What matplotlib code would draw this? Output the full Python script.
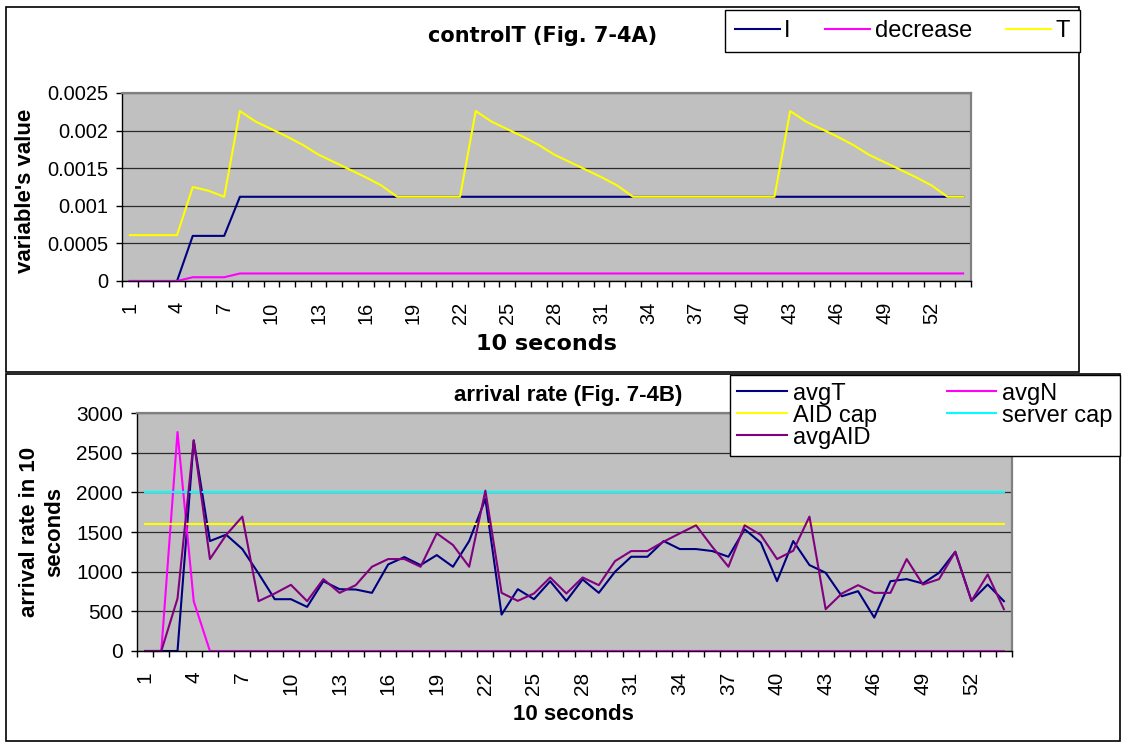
import numpy as np
import matplotlib
matplotlib.use('Agg')
import matplotlib.pyplot as plt
from matplotlib.patches import Rectangle

plt.rcParams['font.family'] = ['Liberation Sans', 'DejaVu Sans']

# ---- data ----
steps = list(range(1, 55))
tick_steps = list(range(1, 55, 3))

# top chart: controlT
ctl_I = [0, 0, 0, 0, 0.0006, 0.0006, 0.0006, 0.00112, 0.00112, 0.00112,
         0.00112, 0.00112, 0.00112, 0.00112, 0.00112, 0.00112, 0.00112, 0.00112,
         0.00112, 0.00112, 0.00112, 0.00112, 0.00112, 0.00112, 0.00112, 0.00112,
         0.00112, 0.00112, 0.00112, 0.00112, 0.00112, 0.00112, 0.00112, 0.00112,
         0.00112, 0.00112, 0.00112, 0.00112, 0.00112, 0.00112, 0.00112, 0.00112,
         0.00112, 0.00112, 0.00112, 0.00112, 0.00112, 0.00112, 0.00112, 0.00112,
         0.00112, 0.00112, 0.00112, 0.00112]
ctl_decrease = [0, 0, 0, 0, 0.00005, 0.00005, 0.00005, 0.0001, 0.0001, 0.0001,
                0.0001, 0.0001, 0.0001, 0.0001, 0.0001, 0.0001, 0.0001, 0.0001,
                0.0001, 0.0001, 0.0001, 0.0001, 0.0001, 0.0001, 0.0001, 0.0001,
                0.0001, 0.0001, 0.0001, 0.0001, 0.0001, 0.0001, 0.0001, 0.0001,
                0.0001, 0.0001, 0.0001, 0.0001, 0.0001, 0.0001, 0.0001, 0.0001,
                0.0001, 0.0001, 0.0001, 0.0001, 0.0001, 0.0001, 0.0001, 0.0001,
                0.0001, 0.0001, 0.0001, 0.0001]
ctl_T = [0.00061, 0.00061, 0.00061, 0.00061, 0.00125, 0.0012, 0.00112,
         0.00226, 0.00212, 0.00202, 0.00192, 0.00181, 0.00168, 0.00158,
         0.00148, 0.00138, 0.00127, 0.00112, 0.00112, 0.00112, 0.00112,
         0.00112, 0.00226, 0.00212, 0.00202, 0.00192, 0.00181, 0.00168,
         0.00158, 0.00148, 0.00138, 0.00127, 0.00112, 0.00112, 0.00112,
         0.00112, 0.00112, 0.00112, 0.00112, 0.00112, 0.00112, 0.00112,
         0.00226, 0.00212, 0.00202, 0.00192, 0.00181, 0.00168, 0.00158,
         0.00148, 0.00138, 0.00127, 0.00112, 0.00112]

# bottom chart: arrival rate
avgT = [0, 0, 0, 2654, 1386, 1466, 1285, 977, 653, 653, 556, 880, 779, 775,
        733, 1091, 1184, 1083, 1209, 1062, 1386, 1917, 459, 779, 653, 880, 632,
        902, 733, 999, 1188, 1188, 1386, 1285, 1285, 1260, 1188, 1534, 1365,
        880, 1386, 1083, 986, 690, 754, 421, 880, 906, 851, 986, 1251, 632, 838,
        628]
avgN = [0, 0, 2760, 628, 0, 0, 0, 0, 0, 0, 0, 0, 0, 0, 0, 0, 0, 0, 0, 0, 0,
        0, 0, 0, 0, 0, 0, 0, 0, 0, 0, 0, 0, 0, 0, 0, 0, 0, 0, 0, 0, 0, 0, 0, 0,
        0, 0, 0, 0, 0, 0, 0, 0, 0]
aid_cap = [1600, 1600, 1600, 1600, 1600, 1600, 1600, 1600, 1600, 1600, 1600,
           1600, 1600, 1600, 1600, 1600, 1600, 1600, 1600, 1600, 1600, 1600,
           1600, 1600, 1600, 1600, 1600, 1600, 1600, 1600, 1600, 1600, 1600,
           1600, 1600, 1600, 1600, 1600, 1600, 1600, 1600, 1600, 1600, 1600,
           1600, 1600, 1600, 1600, 1600, 1600, 1600, 1600, 1600, 1600]
server_cap = [2000, 2000, 2000, 2000, 2000, 2000, 2000, 2000, 2000, 2000, 2000,
              2000, 2000, 2000, 2000, 2000, 2000, 2000, 2000, 2000, 2000, 2000,
              2000, 2000, 2000, 2000, 2000, 2000, 2000, 2000, 2000, 2000, 2000,
              2000, 2000, 2000, 2000, 2000, 2000, 2000, 2000, 2000, 2000, 2000,
              2000, 2000, 2000, 2000, 2000, 2000, 2000, 2000, 2000, 2000]
avgAID = [0, 0, 661, 2654, 1159, 1462, 1694, 628, 725, 834, 628, 906, 733, 830,
          1062, 1159, 1159, 1062, 1483, 1336, 1062, 2022, 733, 632, 725, 927,
          725, 927, 830, 1133, 1260, 1260, 1378, 1483, 1584, 1314, 1062, 1584,
          1462, 1159, 1264, 1694, 527, 725, 830, 733, 733, 1159, 838, 906, 1251,
          632, 965, 527]

top_yticks = [0, 0.0005, 0.001, 0.0015, 0.002, 0.0025]
top_ylabels = ['0', '0.0005', '0.001', '0.0015', '0.002', '0.0025']
bot_yticks = [0, 500, 1000, 1500, 2000, 2500, 3000]

W, H = 1128, 742


def fx(x):
    return x / W


def fy(y):
    return 1 - y / H


def style_axes(ax, ymax, yticks, ylabels, tsize):
    ax.set_facecolor('#C0C0C0')
    ax.set_xlim(0.5, 54.5)
    ax.set_ylim(0, ymax)
    # tick marks between categories, labels on every third category
    ax.set_xticks(np.arange(0.5, 55, 1))
    ax.set_xticklabels([])
    ax.set_xticks(tick_steps, minor=True)
    ax.set_xticklabels([str(s) for s in tick_steps], minor=True, rotation=90)
    ax.set_yticks(yticks)
    ax.set_yticklabels(ylabels)
    ax.tick_params(axis='x', which='major', length=4, width=1, direction='out')
    ax.tick_params(axis='x', which='minor', length=0, pad=15, labelsize=tsize)
    ax.tick_params(axis='y', length=4, width=1, pad=6, labelsize=tsize)
    ax.yaxis.grid(True, color='#2a2a2a', lw=0.9)
    ax.set_axisbelow(True)
    for s in ['left', 'bottom']:
        ax.spines[s].set_color('black')
        ax.spines[s].set_linewidth(1)
    for s in ['top', 'right']:
        ax.spines[s].set_color('#808080')
        ax.spines[s].set_linewidth(1.6)


fig = plt.figure(figsize=(W / 100, H / 100), dpi=100)

# chart frames
fig.add_artist(Rectangle((fx(6), fy(372)), fx(1079) - fx(6), fy(7) - fy(372),
                         transform=fig.transFigure, fill=False, ec='black', lw=1.2))
fig.add_artist(Rectangle((fx(6), fy(741)), fx(1120) - fx(6), fy(374) - fy(741),
                         transform=fig.transFigure, fill=False, ec='black', lw=1.2))

# ---- top chart ----
ax1 = fig.add_axes([fx(122), fy(281), fx(971) - fx(122), fy(93) - fy(281)])
style_axes(ax1, 0.0025, top_yticks, top_ylabels, 14.4)
l1, = ax1.plot(steps, ctl_I, color='#000080', lw=1.5, clip_on=False)
l2, = ax1.plot(steps, ctl_decrease, color='#FF00FF', lw=1.5, clip_on=False)
l3, = ax1.plot(steps, ctl_T, color='#FFFF00', lw=1.5, clip_on=False)

fig.text(fx(543), fy(36), 'controlT (Fig. 7-4A)', ha='center', va='center',
         family='DejaVu Sans', weight='bold', size=15)
fig.text(fx(546), fy(344), '10 seconds', ha='center', va='center',
         family='DejaVu Sans', weight='bold', size=16)
fig.text(fx(26), fy(191), "variable's value", ha='center', va='center',
         rotation=90, weight='bold', size=16)

leg1 = fig.legend([l1, l2, l3], ['I', 'decrease', 'T'], loc='upper right',
                  bbox_to_anchor=(fx(1080), fy(10)), ncol=3, fontsize=17,
                  fancybox=False, edgecolor='black', framealpha=1,
                  borderpad=0.42, borderaxespad=0, handlelength=1.9,
                  handletextpad=0.2, columnspacing=1.45)
leg1.get_frame().set_linewidth(1)

# ---- bottom chart ----
ax2 = fig.add_axes([fx(137), fy(651), fx(1012) - fx(137), fy(413) - fy(651)])
style_axes(ax2, 3000, bot_yticks, [str(v) for v in bot_yticks], 15)
m1, = ax2.plot(steps, avgT, color='#000080', lw=1.5, clip_on=False)
m2, = ax2.plot(steps, avgN, color='#FF00FF', lw=1.5, clip_on=False)
m3, = ax2.plot(steps, aid_cap, color='#FFFF00', lw=1.5, clip_on=False)
m4, = ax2.plot(steps, server_cap, color='#00FFFF', lw=1.5, clip_on=False)
m5, = ax2.plot(steps, avgAID, color='#800080', lw=1.5, clip_on=False)

fig.text(fx(568), fy(395), 'arrival rate (Fig. 7-4B)', ha='center', va='center',
         weight='bold', size=16)
fig.text(fx(573), fy(715), '10 seconds', ha='center', va='center',
         weight='bold', size=16)
fig.text(fx(42), fy(532), 'arrival rate in 10\nseconds', ha='center',
         va='center', rotation=90, weight='bold', size=16, linespacing=1.25,
         multialignment='center')

leg2 = fig.legend([m1, m3, m5, m2, m4],
                  ['avgT', 'AID cap', 'avgAID', 'avgN', 'server cap'],
                  loc='upper right', bbox_to_anchor=(fx(1120), fy(375)),
                  ncol=2, fontsize=17, fancybox=False, edgecolor='black',
                  framealpha=1, borderpad=0.32, borderaxespad=0,
                  labelspacing=0, handlelength=2.1, handletextpad=0.25,
                  columnspacing=2.95)
leg2.get_frame().set_linewidth(1)

fig.savefig('out.png', dpi=100)
